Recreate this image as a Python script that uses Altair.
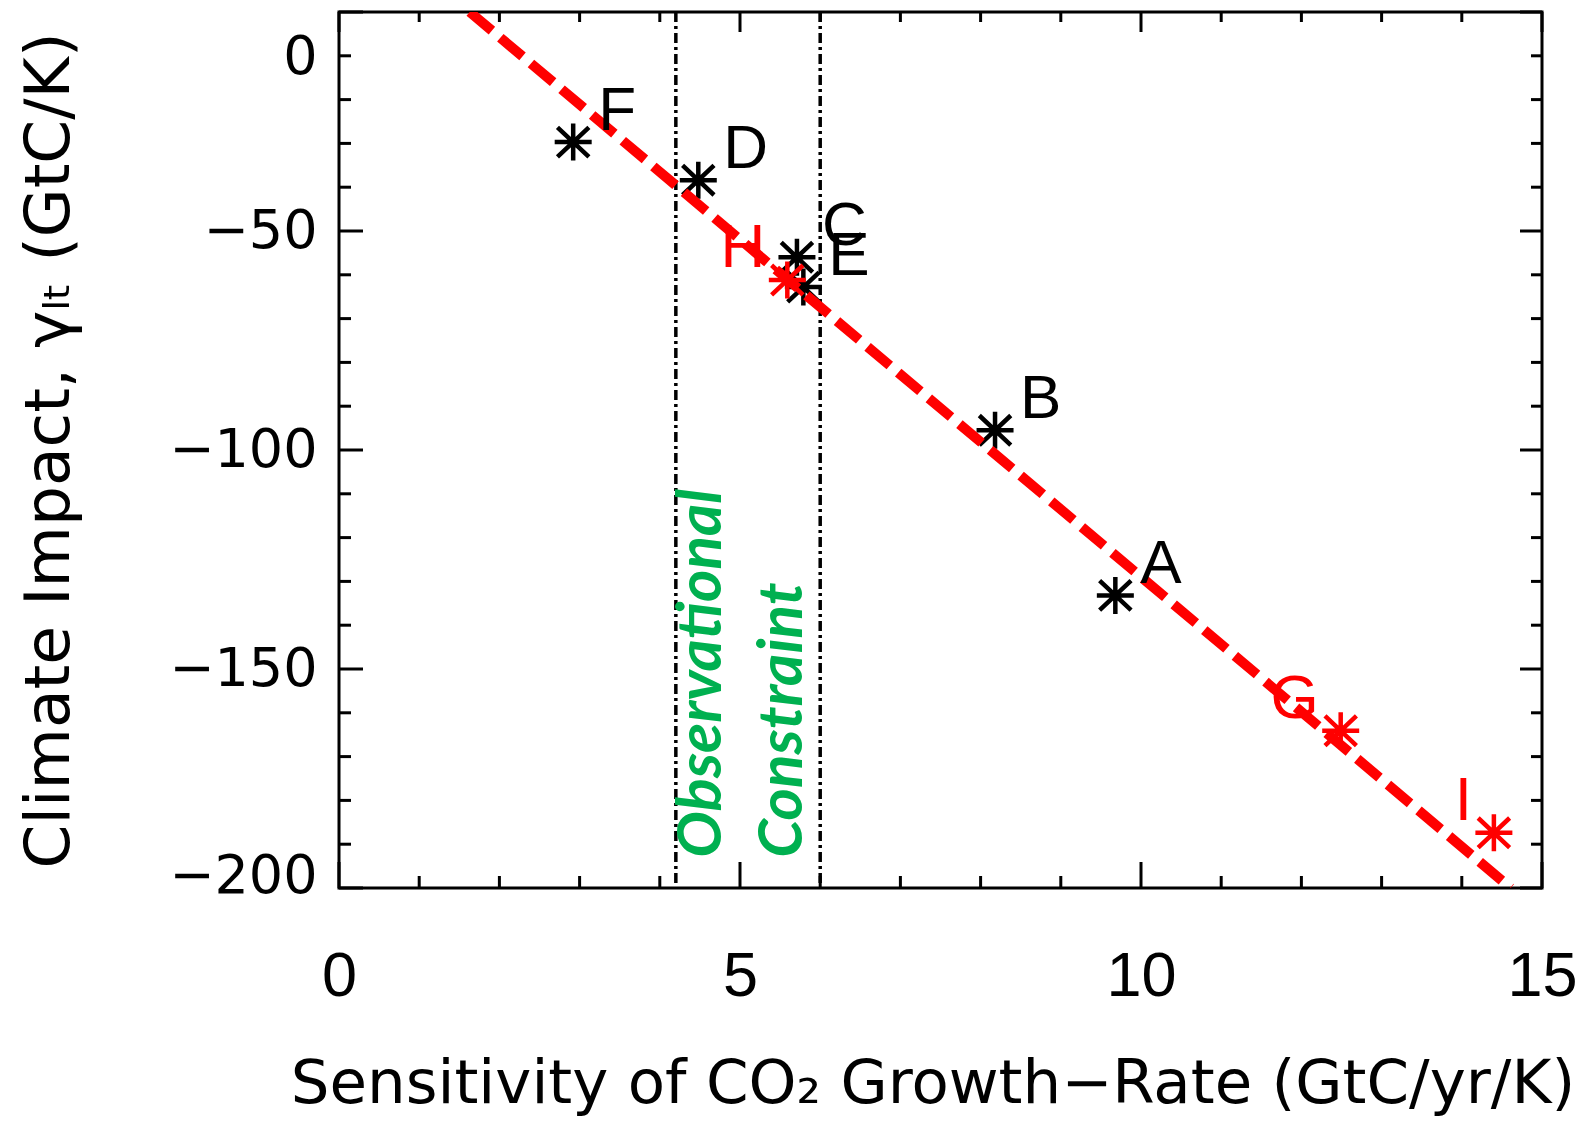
import altair as alt
import pandas as pd

# ---------------- data ----------------
black_names = ["A", "B", "C", "D", "E", "F"]
black_x = [9.68, 8.18, 5.71, 4.48, 5.79, 2.92]
black_y = [-133.2, -95.5, -56.0, -38.4, -62.8, -29.7]

red_names = ["G", "H", "I"]
red_x = [12.49, 5.59, 14.40]
red_y = [-164.1, -61.2, -187.4]

fit_x = [1.63, 14.61]
fit_y = [0.0, -200.0]

constraint_x = [4.2, 6.0]

annot_text = ["Observational", "Constraint"]
annot_x = [4.52, 5.53]
annot_y = [-193.1, -193.1]

x_major = [0, 5, 10, 15]
x_minor = [1, 2, 3, 4, 6, 7, 8, 9, 11, 12, 13, 14]
y_major = [-200, -150, -100, -50, 0]
y_minor = [-190, -180, -170, -160, -140, -130, -120, -110,
           -90, -80, -70, -60, -40, -30, -20, -10]

x_title = "Sensitivity of CO\u2082 Growth\u2212Rate (GtC/yr/K)"
y_title = "Climate Impact, \u03b3\u2097\u209c (GtC/K)"

# ---------------- layout ----------------
W, H = 1203, 876
MINOR, MAJOR = 11, 22

xscale = alt.Scale(domain=[0, 15], nice=False, zero=False)
yscale = alt.Scale(domain=[-200, 0], nice=False, zero=False)

black_df = pd.DataFrame({"x": black_x, "y": black_y, "name": black_names})
red_df = pd.DataFrame({"x": red_x, "y": red_y, "name": red_names})
fit_df = pd.DataFrame({"x": fit_x, "y": fit_y})
con_df = pd.DataFrame({"x": constraint_x})
ann_df = pd.DataFrame({"x": annot_x, "y": annot_y, "t": annot_text})

star = "M-1,0H1M0,-1V1M-0.85,-0.8L0.85,0.8M-0.85,0.8L0.85,-0.8"

x_axis = alt.Axis(
    values=x_major, title=x_title, grid=False, ticks=False, tickSize=0, domain=False,
    labelFont="Liberation Sans", labelFontSize=63, labelColor="black",
    labelPadding=57, labelFlush=False, labelOverlap=False, labelBound=False,
    titleFont="DejaVu Sans", titleFontSize=61, titleFontWeight="normal", titleColor="black",
    titleX=W / 2 - 8, titleY=214, titleAlign="center", titleBaseline="alphabetic",
)
y_axis = alt.Axis(
    values=y_major, title=y_title, grid=False, ticks=False, tickSize=0, domain=False,
    labelFont="DejaVu Sans", labelFontSize=54, labelColor="black",
    labelPadding=22, labelFlush=False, labelOverlap=False, labelBound=False,
    labelOffset=alt.ExprRef("datum.value == 0 ? 45 : (datum.value == -200 ? -12 : 0)"),
    titleFont="DejaVu Sans", titleFontSize=63, titleFontWeight="normal", titleColor="black",
    titleX=-290, titleY=H / 2, titleAngle=270, titleAlign="center", titleBaseline="middle",
)


def X(field):
    return alt.X(field, scale=xscale, axis=x_axis)


def Y(field):
    return alt.Y(field, scale=yscale, axis=y_axis)


black_pts = alt.Chart(black_df).mark_point(
    shape=star, filled=False, stroke="black", strokeWidth=4.5, size=1369, opacity=1
).encode(x=X("x:Q"), y=Y("y:Q"))

red_pts = alt.Chart(red_df).mark_point(
    shape=star, filled=False, stroke="#ff0000", strokeWidth=4.5, size=1369, opacity=1
).encode(x=X("x:Q"), y=Y("y:Q"))

black_lbl = alt.Chart(black_df).mark_text(
    align="left", baseline="middle", dx=25, dy=-31,
    font="Liberation Sans", fontSize=62, color="black"
).encode(x=X("x:Q"), y=Y("y:Q"), text="name:N")

red_lbl = alt.Chart(red_df).mark_text(
    align="right", baseline="middle", dx=-22, dy=-32,
    font="Liberation Sans", fontSize=62, color="#ff0000"
).encode(x=X("x:Q"), y=Y("y:Q"), text="name:N")

fit_line = alt.Chart(fit_df).mark_line(
    color="#ff0000", strokeWidth=10, strokeDash=[29, 11], clip=True
).encode(x=X("x:Q"), y=Y("y:Q"))

con_lines = alt.Chart(con_df).mark_rule(
    color="black", strokeWidth=3.5, strokeDash=[10, 4, 3, 4]
).encode(x=X("x:Q"), y=alt.value(0), y2=alt.value(H))

ann = alt.Chart(ann_df).mark_text(
    angle=270, align="left", baseline="middle",
    font="Lato", fontSize=62, fontStyle="italic", fontWeight="bold", color="#00b050"
).encode(x=X("x:Q"), y=Y("y:Q"), text="t:N")


def tick_layer(vals, channel, side, length):
    df = pd.DataFrame({"v": vals})
    m = alt.Chart(df).mark_rule(color="black", strokeWidth=3)
    if channel == "x":
        enc = dict(x=X("v:Q"))
        if side == "bottom":
            enc.update(y=alt.value(H), y2=alt.value(H - length))
        else:
            enc.update(y=alt.value(0), y2=alt.value(length))
    else:
        enc = dict(y=Y("v:Q"))
        if side == "left":
            enc.update(x=alt.value(0), x2=alt.value(length))
        else:
            enc.update(x=alt.value(W), x2=alt.value(W - length))
    return m.encode(**enc)


ticks = [
    tick_layer(x_major, "x", "bottom", MAJOR + 4),
    tick_layer(x_minor, "x", "bottom", MINOR + 1),
    tick_layer(x_major, "x", "top", MAJOR - 2),
    tick_layer(x_minor, "x", "top", MINOR - 1),
    tick_layer(y_major, "y", "left", MAJOR + 2),
    tick_layer(y_minor, "y", "left", MINOR + 1),
    tick_layer(y_major, "y", "right", MAJOR),
    tick_layer(y_minor, "y", "right", MINOR),
]

chart = alt.layer(
    black_pts, *ticks, con_lines, fit_line, red_pts, black_lbl, red_lbl, ann
).properties(
    width=W, height=H,
    autosize=alt.AutoSizeParams(type="none"),
    padding={"left": 331, "top": 4, "right": 43, "bottom": 228},
    background="white",
).configure_view(
    stroke="black", strokeWidth=3
)

chart.save("out.html", embed_options={"renderer": "svg", "actions": False})
